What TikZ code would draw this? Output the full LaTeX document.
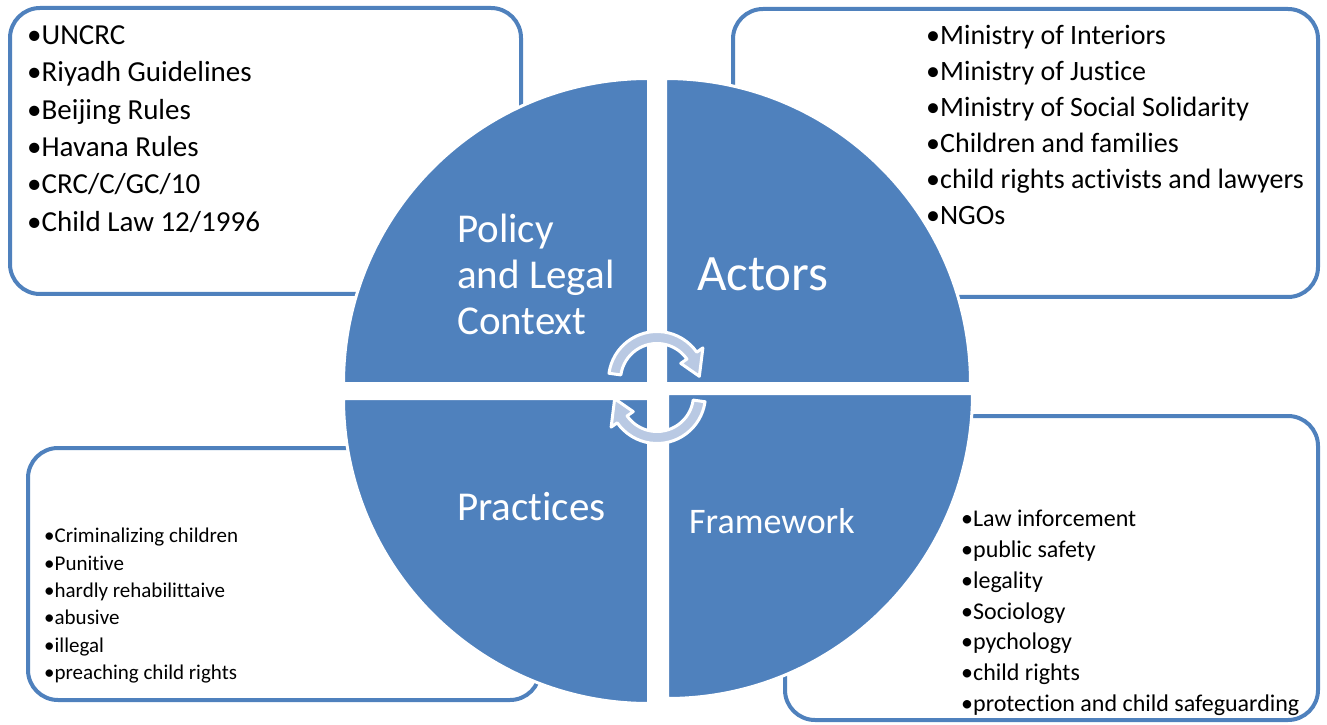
\documentclass[tikz,border=0pt]{standalone}
\usepackage{fontspec}
\setmainfont{Carlito}[RawFeature={-liga;-clig}]
\usetikzlibrary{calc}
\definecolor{qblue}{RGB}{79,129,189}
\definecolor{arrowfill}{RGB}{185,201,227}
\tikzset{listbox/.style={draw=qblue, line width=4pt, fill=white, rounded corners=30pt},
         quarter/.style={fill=qblue, draw=white, line width=3pt},
         cyclearrow/.style={fill=arrowfill, draw=white, line width=3pt, line join=round},
         items/.style={anchor=north west, align=left, inner sep=0pt, text=black},
         quadtext/.style={anchor=west, align=left, inner sep=0pt, text=white}}

\begin{document}
\begin{tikzpicture}[x=1pt,y=1pt]
   \useasboundingbox (0,0) rectangle (1327,724);
   % the four lists
   \draw[listbox] (10,430) rectangle (521,716);
   \draw[listbox] (733,427) rectangle (1318,715);
   \draw[listbox] (28,24) rectangle (540,276);
   \draw[listbox] (785,4) rectangle (1318,308);
   % the circle, cut in four
   \coordinate (ctl) at (648.5,340.5);
   \coordinate (ctr) at (665.5,340.5);
   \coordinate (cbl) at (648.5,325.5);
   \coordinate (cbr) at (667.5,330.5);
   \draw[quarter] (ctl) -- ++(-305,0) arc[start angle=180, end angle=90, radius=305pt] -- cycle;
   \draw[quarter] (ctr) -- ++(0,305) arc[start angle=90, end angle=0, radius=305pt] -- cycle;
   \draw[quarter] (cbl) -- ++(0,-305) arc[start angle=270, end angle=180, radius=305pt] -- cycle;
   \draw[quarter] (cbr) -- ++(305,0) arc[start angle=0, end angle=-90, radius=305pt] -- cycle;
   % circular arrows
   \coordinate (cu) at (657,344);
   \coordinate (cl) at (657,329);
   \draw[cyclearrow]
     ($(cu)+(172:48.5)$) arc[start angle=172, end angle=35, radius=48.5pt] --
     ($(cu)+(35:56)$) -- ($(cu)+(5:42.5)$) -- ($(cu)+(35:29)$) --
     ($(cu)+(35:36.5)$) arc[start angle=35, end angle=172, radius=36.5pt] -- cycle;
   \draw[cyclearrow]
     ($(cl)+(352:48.5)$) arc[start angle=352, end angle=215, radius=48.5pt] --
     ($(cl)+(215:56)$) -- ($(cl)+(185:42.5)$) -- ($(cl)+(215:29)$) --
     ($(cl)+(215:36.5)$) arc[start angle=215, end angle=352, radius=36.5pt] -- cycle;
   % quadrant titles
   \node[quadtext, font=\fontsize{41}{46}\selectfont] (policy) at (457,450) {Policy\\and Legal\\Context};
   \node[quadtext, font=\fontsize{51}{56}\selectfont] (actors) at (697,450) {Actors};
   \node[quadtext, font=\fontsize{41}{46}\selectfont] (practices) at (457,217) {Practices};
   \node[quadtext, font=\fontsize{36}{40}\selectfont] (framework) at (689,203) {Framework};
   % list texts
   \node[items, font=\fontsize{29}{37.4}\selectfont] (laws) at (27,698.7)
     {•UNCRC\\•Riyadh Guidelines\\•Beijing Rules\\•Havana Rules\\•CRC/C/GC/10\\•Child Law 12/1996};
   \node[items, font=\fontsize{28}{36}\selectfont] (actorlist) at (926,699)
     {•Ministry of Interiors\\•Ministry of Justice\\•Ministry of Social Solidarity\\•Children and families\\•child rights activists and lawyers\\•NGOs};
   \node[items, font=\fontsize{21}{27.4}\selectfont] (practicelist) at (44,196)
     {•Criminalizing children\\•Punitive\\•hardly rehabilittaive\\•abusive\\•illegal\\•preaching child rights};
   \node[items, font=\fontsize{24}{30.8}\selectfont] (frames) at (961,214)
     {•Law inforcement\\•public safety\\•legality\\•Sociology\\•pychology\\•child rights\\•protection and child safeguarding};
\end{tikzpicture}
\end{document}
